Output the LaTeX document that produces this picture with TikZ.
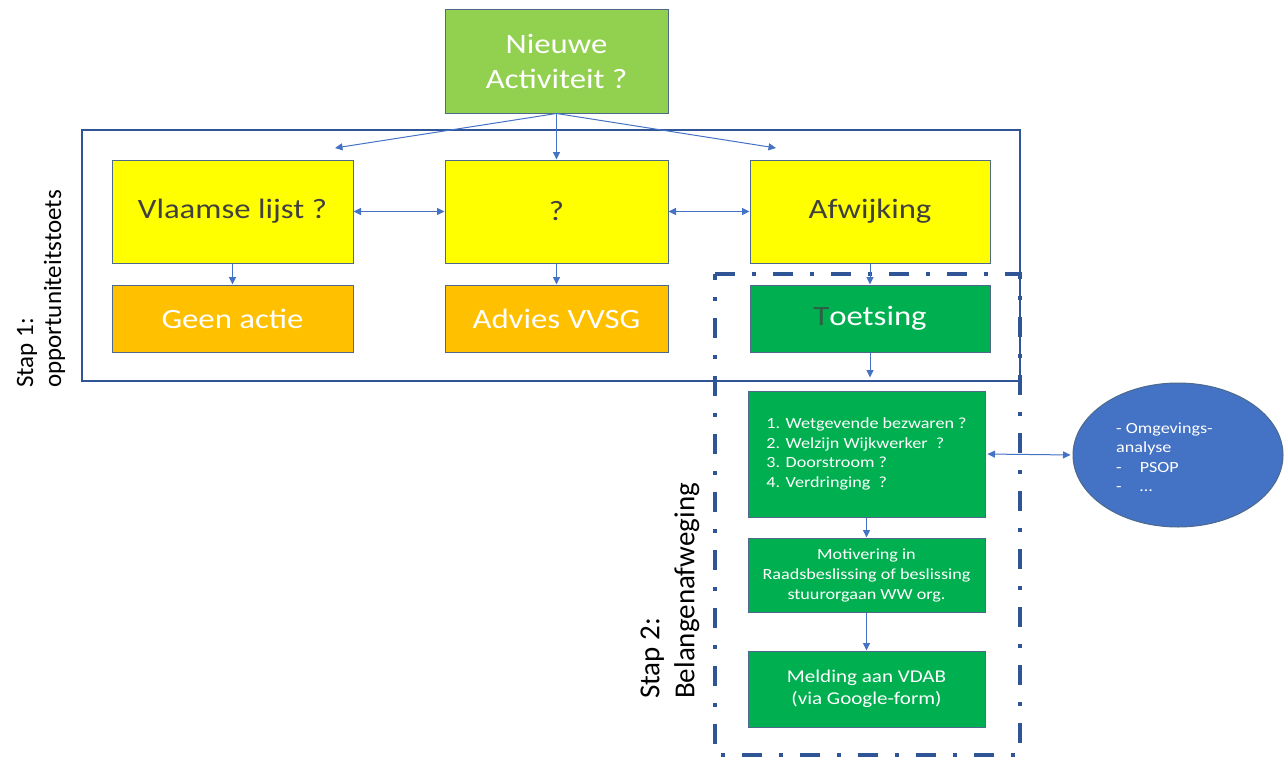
\documentclass[tikz,border=0pt]{standalone}
\usepackage{fontspec}
\setmainfont{Carlito}[FakeStretch=1.17]
\newfontfamily\rotfont{Carlito}
\usetikzlibrary{arrows.meta,shapes.geometric}
\definecolor{lgreen}{HTML}{92D050}
\definecolor{ylw}{HTML}{FFFF00}
\definecolor{orng}{HTML}{FFC000}
\definecolor{dgreen}{HTML}{00B050}
\definecolor{ellblue}{HTML}{4472C4}
\definecolor{arrblue}{HTML}{4472C4}
\definecolor{frameblue}{HTML}{2F5597}
\definecolor{boxline}{HTML}{4D6A8C}
\definecolor{darktext}{HTML}{404040}
\definecolor{tdark}{HTML}{2F5F45}
\begin{document}
\begin{tikzpicture}[x=1pt,y=-1pt,
  box/.style={draw=boxline, line width=1pt, inner sep=0pt, align=center},
  bigtext/.style={font=\fontsize{28}{35}\selectfont},
  smalltext/.style={font=\fontsize{15.5}{19.5}\selectfont},
  arr/.style={draw=arrblue, line width=1pt, -{Triangle[length=7.5pt,width=7pt]}},
  darr/.style={draw=arrblue, line width=1pt, {Triangle[length=7.5pt,width=7pt]}-{Triangle[length=7.5pt,width=7pt]}},
  frame/.style={draw=frameblue, line width=2.8pt},
  dashframe/.style={draw=frameblue, line width=3.8pt, dash pattern=on 20pt off 17pt on 4pt off 17pt},
]
\useasboundingbox (0,0) rectangle (1285,760);

% frames
\draw[frame] (82,130) rectangle (1020,381);
\draw[dashframe] (715,274) -- (1020,274) -- (1020,755) -- (715,755) -- cycle;

% nodes
\node[box, fill=lgreen, text=white, bigtext, minimum width=223pt, minimum height=103pt] (top) at (556.5,61.5) {Nieuwe\\Activiteit ?};

\node[box, fill=ylw, text=darktext, bigtext, minimum width=241pt, minimum height=103pt] (vl) at (232.5,211.5) {Vlaamse lijst ?};
\node[box, fill=ylw, text=darktext, bigtext, minimum width=223pt, minimum height=103pt] (q) at (556.5,211.5) {?};
\node[box, fill=ylw, text=darktext, bigtext, minimum width=240pt, minimum height=103pt] (af) at (870,211.5) {Afwijking};

\node[box, fill=orng, text=white, bigtext, minimum width=241pt, minimum height=67pt] (ga) at (232.5,318.5) {Geen actie};
\node[box, fill=orng, text=white, bigtext, minimum width=223pt, minimum height=67pt] (av) at (556.5,318.5) {Advies VVSG};
\node[box, fill=dgreen, text=white, bigtext, minimum width=240pt, minimum height=67pt] (to) at (870,318.5) {{\color{tdark}T}oetsing};

\node[box, fill=dgreen, text=white, smalltext, align=left, minimum width=237pt, minimum height=126pt] (b1) at (866.5,454) {1. Wetgevende bezwaren ?\\2. Welzijn Wijkwerker\ \ ?\\3. Doorstroom ?\\4. Verdringing\ \ ?};
\node[box, fill=dgreen, text=white, font=\fontsize{15.5}{20}\selectfont, minimum width=237pt, minimum height=74pt] (b2) at (866.5,575) {Motivering in\\Raadsbeslissing of beslissing\\stuurorgaan WW org.};
\node[box, fill=dgreen, text=white, font=\fontsize{18}{22}\selectfont, minimum width=237pt, minimum height=76pt] (b3) at (866.5,689) {Melding aan VDAB\\(via Google-form)};

\node[ellipse, draw=boxline, line width=1pt, fill=ellblue, minimum width=210pt, minimum height=144pt, inner sep=0pt] (ell) at (1178,455) {};
\node[anchor=west, text=white, align=left, inner sep=0pt, font=\fontsize{15.5}{19.5}\selectfont] (elltext) at (1116,457) {- Omgevings-\\analyse\\-\hspace{18pt}PSOP\\-\hspace{18pt}\ldots};

% step labels
\node[rotate=90, anchor=west, align=left, inner sep=0pt, font=\rotfont\fontsize{25}{28}\selectfont] (s1) at (41,388) {Stap 1:\\opportuniteitstoets};
\node[rotate=90, anchor=west, align=left, inner sep=0pt, font=\rotfont\fontsize{29}{35}\selectfont] (s2) at (670,699) {Stap 2:\\Belangenafweging};

% connectors
\coordinate (tl) at (335,148);
\coordinate (tr) at (776,148);
\draw[arr] (top.south) -- (tl);
\draw[arr] (top.south) -- (q.north);
\draw[arr] (top.south) -- (tr);
\draw[darr] (vl.east) -- (q.west);
\draw[darr] (q.east) -- (af.west);
\draw[arr] (vl.south) -- (ga.north);
\draw[arr] (q.south) -- (av.north);
\draw[arr] (af.south) -- (to.north);
\draw[arr, shorten >=13pt] (to.south) -- (to.south |- b1.north);
\draw[arr] (b1.south) -- (b2.north);
\draw[arr] (b2.south) -- (b3.north);
\draw[darr, shorten <=2pt, shorten >=2pt] (b1.east) -- (ell.west);
\end{tikzpicture}
\end{document}
